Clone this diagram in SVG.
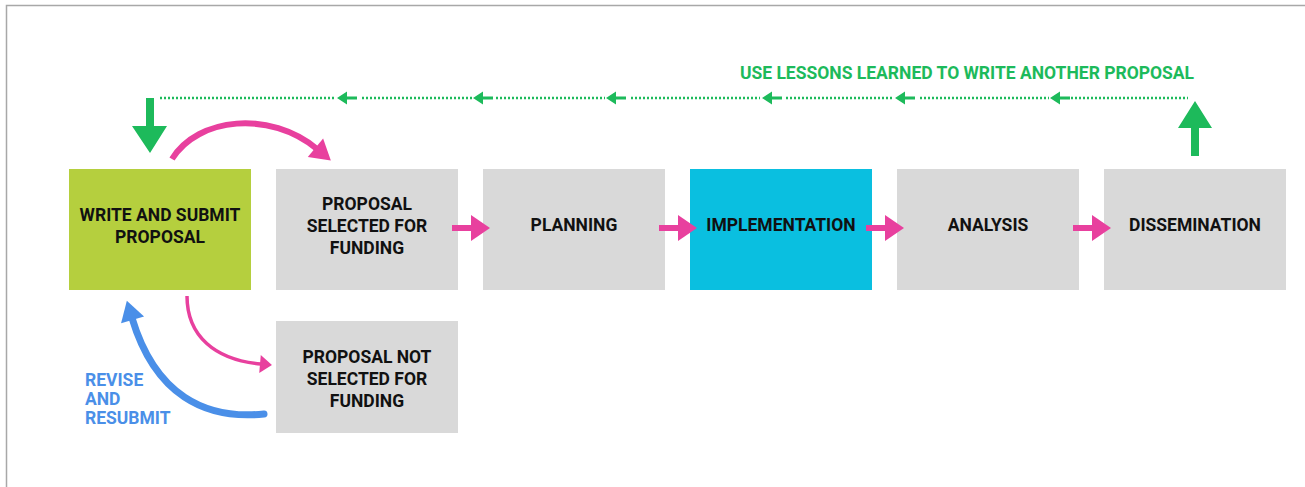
<svg xmlns="http://www.w3.org/2000/svg" width="1305" height="487" viewBox="0 0 1305 487">
<style>
.box{stroke:none}
.gray{fill:#d9d9d9}
.lime{fill:#b5cf3e}
.cyan{fill:#0abfe0}
.lbl{font-family:Roboto,"Liberation Sans",sans-serif;font-weight:bold;font-size:17.5px;fill:#111;text-anchor:middle}
.green{fill:#1dba5b}
.gtxt{font-family:Roboto,"Liberation Sans",sans-serif;font-weight:bold;font-size:17.5px;fill:#1dba5b;text-anchor:middle}
.btxt{font-family:Roboto,"Liberation Sans",sans-serif;font-weight:bold;font-size:17.5px;fill:#4a8fe8}
.dot{stroke:#1dba5b;stroke-width:2.5;stroke-dasharray:2 2;fill:none}
.pink{stroke:#e8409e;fill:none}
</style>
<defs>
<marker id="ph" markerUnits="userSpaceOnUse" markerWidth="20" markerHeight="26" refX="1" refY="13" orient="auto" overflow="visible">
<path d="M0,0 L19,13 L0,26 z" fill="#e8409e"/>
</marker>
<marker id="phc" markerUnits="userSpaceOnUse" markerWidth="22" markerHeight="24" refX="2" refY="12" orient="auto" overflow="visible">
<path d="M0,0 L20,12 L0,24 z" fill="#e8409e"/>
</marker>
<marker id="phs" markerUnits="userSpaceOnUse" markerWidth="14" markerHeight="18" refX="1" refY="9" orient="auto" overflow="visible">
<path d="M0,0 L12,9 L0,18 z" fill="#e8409e"/>
</marker>
<marker id="bh" markerUnits="userSpaceOnUse" markerWidth="22" markerHeight="24" refX="2" refY="12" orient="auto" overflow="visible">
<path d="M0,0 L20,12 L0,24 z" fill="#4a8fe8"/>
</marker>
<path id="sga" d="M0,0 L10,-6.5 L10,-1.5 L20,-1.5 L20,1.5 L10,1.5 L10,6.5 z" fill="#1dba5b"/>
</defs>
<rect x="0" y="0" width="1305" height="487" fill="#fff"/>
<path d="M6.5,487 L6.5,5.5 L1305,5.5" fill="none" stroke="#a8a8a8" stroke-width="1.5"/>

<g id="n-write"><rect class="box lime" x="69" y="169" width="182" height="121"/>
<text class="lbl" x="160" y="221">WRITE AND SUBMIT</text><text class="lbl" x="160" y="243">PROPOSAL</text></g>
<g id="n-selected"><rect class="box gray" x="276" y="169" width="182" height="121"/>
<text class="lbl" x="367" y="210">PROPOSAL</text><text class="lbl" x="367" y="232">SELECTED FOR</text><text class="lbl" x="367" y="254">FUNDING</text></g>
<g id="n-planning"><rect class="box gray" x="483" y="169" width="182" height="121"/>
<text class="lbl" x="574" y="231">PLANNING</text></g>
<g id="n-implementation"><rect class="box cyan" x="690" y="169" width="182" height="121"/>
<text class="lbl" x="781" y="231">IMPLEMENTATION</text></g>
<g id="n-analysis"><rect class="box gray" x="897" y="169" width="182" height="121"/>
<text class="lbl" x="988" y="231">ANALYSIS</text></g>
<g id="n-dissemination"><rect class="box gray" x="1104" y="169" width="182" height="121"/>
<text class="lbl" x="1195" y="231">DISSEMINATION</text></g>
<g id="n-notselected"><rect class="box gray" x="276" y="321" width="182" height="112"/>
<text class="lbl" x="367" y="363">PROPOSAL NOT</text><text class="lbl" x="367" y="385">SELECTED FOR</text><text class="lbl" x="367" y="407">FUNDING</text></g>

<g id="connectors">
<line class="pink" stroke-width="6" x1="452" y1="228" x2="472" y2="228" marker-end="url(#ph)"/>
<line class="pink" stroke-width="6" x1="659" y1="228" x2="679" y2="228" marker-end="url(#ph)"/>
<line class="pink" stroke-width="6" x1="866" y1="228" x2="886" y2="228" marker-end="url(#ph)"/>
<line class="pink" stroke-width="6" x1="1073" y1="228" x2="1093" y2="228" marker-end="url(#ph)"/>
<path class="pink" stroke-width="6" d="M172,159 C198,117 270,110 317,149" marker-end="url(#phc)"/>
<path class="pink" stroke-width="3.5" d="M187,296 C187,336 215,360 261,364" marker-end="url(#phs)"/>
<path stroke="#4a8fe8" stroke-width="7" fill="none" stroke-linecap="round" d="M264,414 C205,420 155,395 132,318" marker-end="url(#bh)"/>

<g id="feedback">
<line class="dot" x1="160" y1="98" x2="336" y2="98"/>
<line class="dot" x1="362" y1="98" x2="472" y2="98"/>
<line class="dot" x1="496" y1="98" x2="605" y2="98"/>
<line class="dot" x1="631" y1="98" x2="760" y2="98"/>
<line class="dot" x1="786" y1="98" x2="894" y2="98"/>
<line class="dot" x1="920" y1="98" x2="1049" y2="98"/>
<line class="dot" x1="1071" y1="98" x2="1188" y2="98"/>
<use href="#sga" x="337" y="98"/>
<use href="#sga" x="473" y="98"/>
<use href="#sga" x="606" y="98"/>
<use href="#sga" x="762" y="98"/>
<use href="#sga" x="895" y="98"/>
<use href="#sga" x="1050" y="98"/>
<path class="green" d="M146,98 L154,98 L154,126 L167,126 L150,153 L132,126 L146,126 z"/>
<path class="green" d="M1191,156 L1199,156 L1199,128 L1212,128 L1195,101 L1178,128 L1191,128 z"/>
</g>
</g>

<text class="gtxt" x="967" y="79">USE LESSONS LEARNED TO WRITE ANOTHER PROPOSAL</text>
<text class="btxt" x="85" y="386">REVISE</text>
<text class="btxt" x="85" y="405">AND</text>
<text class="btxt" x="85" y="424">RESUBMIT</text>
</svg>
